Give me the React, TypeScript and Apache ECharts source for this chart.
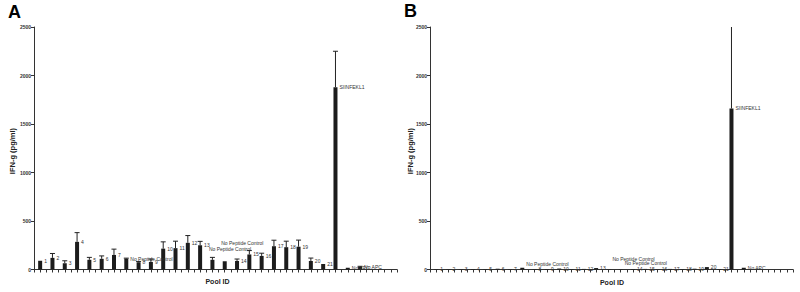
import React, { useEffect, useRef } from "react";
import * as echarts from "echarts";

const poolLabels = [
  "1", "2", "3", "4", "5", "6", "7", "No Peptide Control", "8", "9", "10", "11", "12", "13",
  "No Peptide Control", "No Peptide Control", "14", "15", "16", "17", "18", "19", "20", "21",
  "SIINFEKL1", "No APC", "No APC",
];
const poolLabelsB = [
  "1", "2", "3", "4", "5", "6", "7", "No Peptide Control", "8", "9", "10", "11", "12", "13",
  "No Peptide Control", "No Peptide Control", "14", "15", "16", "17", "18", "19", "20", "21",
  "SIINFEKL1", "No APC", "",
];
const valuesA = [90, 120, 65, 285, 100, 110, 150, 112, 75, 78, 215, 220, 275, 250, 100, 85, 88, 155, 140, 240, 230, 235, 88, 57, 1880, 18, 28];
const errorsA = [0, 45, 25, 95, 25, 30, 60, 5, 8, 30, 70, 72, 75, 40, 25, 0, 20, 40, 28, 62, 62, 68, 30, 0, 370, 0, 5];
const valuesB: (number | null)[] = [4, 4, 3, 5, 4, 8, 3, 18, 4, 5, 10, 5, 6, 15, 4, 3, 5, 6, 4, 6, 5, 8, 25, 5, 1660, 18, null];
const errorsB = [0, 0, 0, 0, 0, 0, 0, 0, 0, 0, 0, 0, 0, 0, 0, 0, 0, 0, 0, 0, 0, 0, 0, 0, 1000, 0, 0];
const yTicks = { min: 0, max: 2500, interval: 500 };

// label placement tweaks (style only)
const labelShiftA: Record<number, [number, number]> = { 14: [-7.5, -11], 15: [-7.5, -18] };
const labelShiftB: Record<number, [number, number]> = { 7: [0, -4], 14: [0, -10], 15: [0, -6] };

const FONT = "'Liberation Sans', Arial, sans-serif";
const INK = "#333";
const BAR = "#1c1c1c";

const labelBase = {
  show: true,
  fontSize: 5,
  color: INK,
  fontFamily: FONT,
  align: "left",
  verticalAlign: "middle",
};

function barData(vals: (number | null)[], labels: string[], shift: Record<number, [number, number]>) {
  return vals.map((v, i) => {
    const s = shift[i] || [0, 0];
    return {
      value: [i + 1, v],
      label: { ...labelBase, position: [6 + s[0], s[1]], formatter: labels[i] },
    };
  });
}

function errData(vals: (number | null)[], errs: number[]) {
  return vals.map((v, i) => [i + 1, v == null ? 0 : v, errs[i] || 0]);
}

function errorRender(params: any, api: any) {
  const x = api.value(0);
  const v = api.value(1);
  const e = api.value(2);
  if (!e) return { type: "group", children: [] };
  const p0 = api.coord([x, v]);
  const p1 = api.coord([x, v + e]);
  const style = { stroke: "#222", lineWidth: 1 };
  return {
    type: "group",
    children: [
      { type: "line", shape: { x1: p0[0], y1: p0[1], x2: p1[0], y2: p1[1] }, style },
      { type: "line", shape: { x1: p0[0] - 2.5, y1: p1[1], x2: p0[0] + 2.5, y2: p1[1] }, style },
    ],
  };
}

export default function App() {
  const ref = useRef<HTMLDivElement>(null);
  useEffect(() => {
    if (!ref.current) return;
    const chart = echarts.init(ref.current, undefined, { renderer: "svg" });
    const axisLine = { show: true, lineStyle: { color: INK, width: 1 } };
    const xAxisBase = {
      type: "value",
      min: 0.5,
      max: 30,
      interval: 0.5,
      axisLine,
      axisTick: { show: true, length: 3, lineStyle: { color: INK } },
      axisLabel: { show: false },
      splitLine: { show: false },
    };
    const yAxisBase = {
      type: "value",
      min: yTicks.min,
      max: yTicks.max,
      interval: yTicks.interval,
      axisLine,
      axisTick: { show: true, length: 3, lineStyle: { color: INK } },
      axisLabel: {
        fontSize: 5, fontWeight: "bold", color: INK, margin: 3, fontFamily: FONT,
        formatter: (v: number) => String(v),
      },
      splitLine: { show: false },
    };
    chart.setOption({
      animation: false,
      grid: [
        { left: 34, top: 27, width: 363, height: 242.5 },
        { left: 430, top: 27, width: 363, height: 242.5 },
      ],
      xAxis: [
        { ...xAxisBase, gridIndex: 0 },
        { ...xAxisBase, gridIndex: 1 },
      ],
      yAxis: [
        { ...yAxisBase, gridIndex: 0 },
        { ...yAxisBase, gridIndex: 1 },
      ],
      series: [
        {
          type: "bar",
          xAxisIndex: 0,
          yAxisIndex: 0,
          barWidth: 4,
          itemStyle: { color: BAR },
          label: labelBase,
          data: barData(valuesA, poolLabels, labelShiftA),
        },
        {
          type: "custom",
          xAxisIndex: 0,
          yAxisIndex: 0,
          clip: true,
          renderItem: errorRender,
          data: errData(valuesA, errorsA),
          z: 3,
        },
        {
          type: "bar",
          xAxisIndex: 1,
          yAxisIndex: 1,
          barWidth: 4,
          itemStyle: { color: BAR },
          label: labelBase,
          data: barData(valuesB, poolLabelsB, labelShiftB),
        },
        {
          type: "custom",
          xAxisIndex: 1,
          yAxisIndex: 1,
          clip: true,
          renderItem: errorRender,
          data: errData(valuesB, errorsB),
          z: 3,
        },
      ],
      graphic: [
        { type: "text", left: 8, top: 3, style: { text: "A", fontSize: 18, fontWeight: "bold", fill: "#000", fontFamily: FONT } },
        { type: "text", left: 404, top: 2, style: { text: "B", fontSize: 18, fontWeight: "bold", fill: "#000", fontFamily: FONT } },
        {
          type: "text", x: 12.5, y: 151, rotation: Math.PI / 2,
          style: { text: "IFN-g (pg/ml)", fontSize: 7.5, fontWeight: "bold", fill: "#222", fontFamily: FONT, align: "center", verticalAlign: "middle" },
        },
        {
          type: "text", x: 410.5, y: 151, rotation: Math.PI / 2,
          style: { text: "IFN-g (pg/ml)", fontSize: 7.5, fontWeight: "bold", fill: "#222", fontFamily: FONT, align: "center", verticalAlign: "middle" },
        },
        {
          type: "text", x: 217.5, y: 281,
          style: { text: "Pool ID", fontSize: 7, fontWeight: "bold", fill: "#222", fontFamily: FONT, align: "center", verticalAlign: "middle" },
        },
        {
          type: "text", x: 612, y: 282,
          style: { text: "Pool ID", fontSize: 7, fontWeight: "bold", fill: "#222", fontFamily: FONT, align: "center", verticalAlign: "middle" },
        },
      ],
    });
    return () => chart.dispose();
  }, []);
  return <div ref={ref} style={{ position: "fixed", left: 0, top: 0, width: 800, height: 292, background: "#fff" }} />;
}
